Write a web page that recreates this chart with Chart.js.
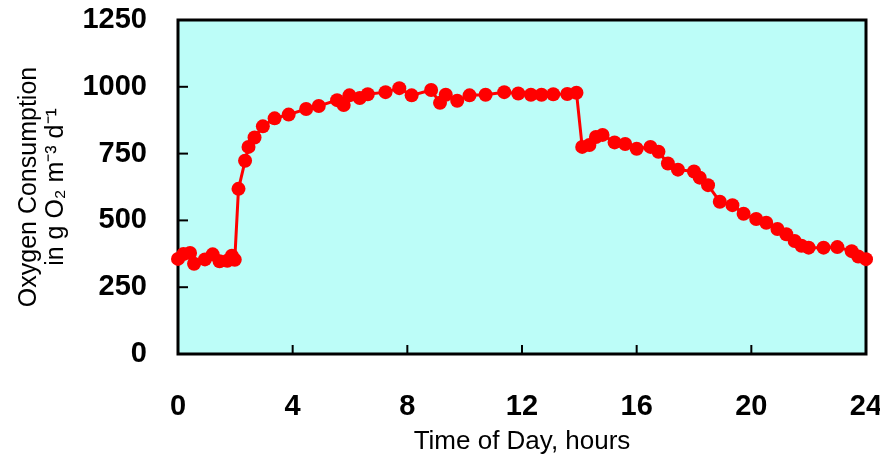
<!DOCTYPE html>
<html>
<head>
<meta charset="utf-8">
<script src="https://cdn.jsdelivr.net/npm/chart.js@4"></script>
<style>
  html,body{margin:0;padding:0;background:#fff;}
  #wrap{width:880px;height:457px;}
</style>
</head>
<body>
<div id="wrap"><canvas id="chart" width="880" height="457"></canvas></div>
<script>
const hours = [0,0.19,0.42,0.56,0.94,1.21,1.45,1.72,1.88,1.98,2.11,2.34,2.46,2.67,2.96,3.37,3.86,4.47,4.91,5.55,5.78,5.98,6.34,6.62,7.24,7.72,8.15,8.83,9.14,9.34,9.74,10.17,10.73,11.38,11.87,12.31,12.68,13.09,13.58,13.9,14.1,14.35,14.58,14.81,15.23,15.6,16.0,16.48,16.76,17.09,17.44,18.0,18.2,18.49,18.9,19.34,19.73,20.17,20.52,20.91,21.22,21.51,21.75,22.0,22.52,23.0,23.5,23.73,24.0];
const oxygen = [356,374,378,338,354,373,347,349,368,353,618,723,775,810,852,882,896,917,928,950,932,968,958,972,980,995,968,988,940,970,948,968,970,980,975,970,970,972,973,978,775,782,812,820,792,786,768,775,757,713,690,683,660,632,570,557,525,505,491,468,448,423,405,398,398,400,385,365,355];
const xTicks = [0,4,8,12,16,20,24];
const yTicks = [0,250,500,750,1000,1250];

const frame = {
  id:'frame',
  beforeDraw(c){
    const {ctx, chartArea:a} = c;
    ctx.save();
    ctx.fillStyle = '#bcfdf8';
    ctx.fillRect(a.left, a.top, a.right-a.left, a.bottom-a.top);
    ctx.restore();
  },
  beforeDatasetsDraw(c){
    const {ctx, chartArea:a, scales} = c;
    ctx.save();
    ctx.strokeStyle = '#000';
    ctx.lineWidth = 2;
    // inward tick marks
    xTicks.slice(1,-1).forEach(v=>{
      const x = scales.x.getPixelForValue(v);
      ctx.beginPath(); ctx.moveTo(x, a.bottom); ctx.lineTo(x, a.bottom-9); ctx.stroke();
    });
    yTicks.slice(1,-1).forEach(v=>{
      const y = scales.y.getPixelForValue(v);
      ctx.beginPath(); ctx.moveTo(a.left, y); ctx.lineTo(a.left+10, y); ctx.stroke();
    });
    ctx.lineWidth = 3;
    ctx.strokeRect(a.left, a.top, a.right-a.left, a.bottom-a.top);
    ctx.restore();
  }
};

const tickFont = {family:'Liberation Sans', size:29, weight:'bold'};

new Chart(document.getElementById('chart'), {
  type:'scatter',
  data:{
    datasets:[{
      data: hours.map((h,i)=>({x:h, y:oxygen[i]})),
      showLine:true,
      borderColor:'#ff0000',
      backgroundColor:'#ff0000',
      borderWidth:3,
      pointRadius:7,
      pointBorderWidth:0,
      clip:false
    }]
  },
  options:{
    responsive:false,
    animation:false,
    layout:{padding:{top:20,right:14,left:0,bottom:0}},
    plugins:{legend:{display:false},tooltip:{enabled:false}},
    scales:{
      x:{
        type:'linear', min:0, max:24,
        afterBuildTicks(s){ s.ticks = xTicks.map(v=>({value:v})); },
        grid:{display:false}, border:{display:false},
        ticks:{color:'#000', padding:28, font:tickFont, callback:v=>String(v)},
        title:{display:true, text:'Time of Day, hours', color:'#000', padding:{top:2,bottom:0},
               font:{family:'Liberation Sans', size:26}},
        afterFit(s){ s.height = 103; s.paddingLeft = 0; s.paddingRight = 0; }
      },
      y:{
        min:0, max:1250,
        afterBuildTicks(s){ s.ticks = yTicks.map(v=>({value:v})); },
        grid:{display:false}, border:{display:false},
        ticks:{color:'#000', padding:23, font:tickFont, callback:v=>String(v)},
        title:{display:true, text:['Oxygen Consumption','in g O\u2082 m\u207B\u00B3 d\u207B\u00B9'], color:'#000',
               padding:{top:16,bottom:0}, font:{family:'Liberation Sans', size:25, lineHeight:1.08}},
        afterFit(s){ s.width = 178; s.paddingTop = 0; s.paddingBottom = 0; }
      }
    }
  },
  plugins:[frame]
});
</script>
</body>
</html>
